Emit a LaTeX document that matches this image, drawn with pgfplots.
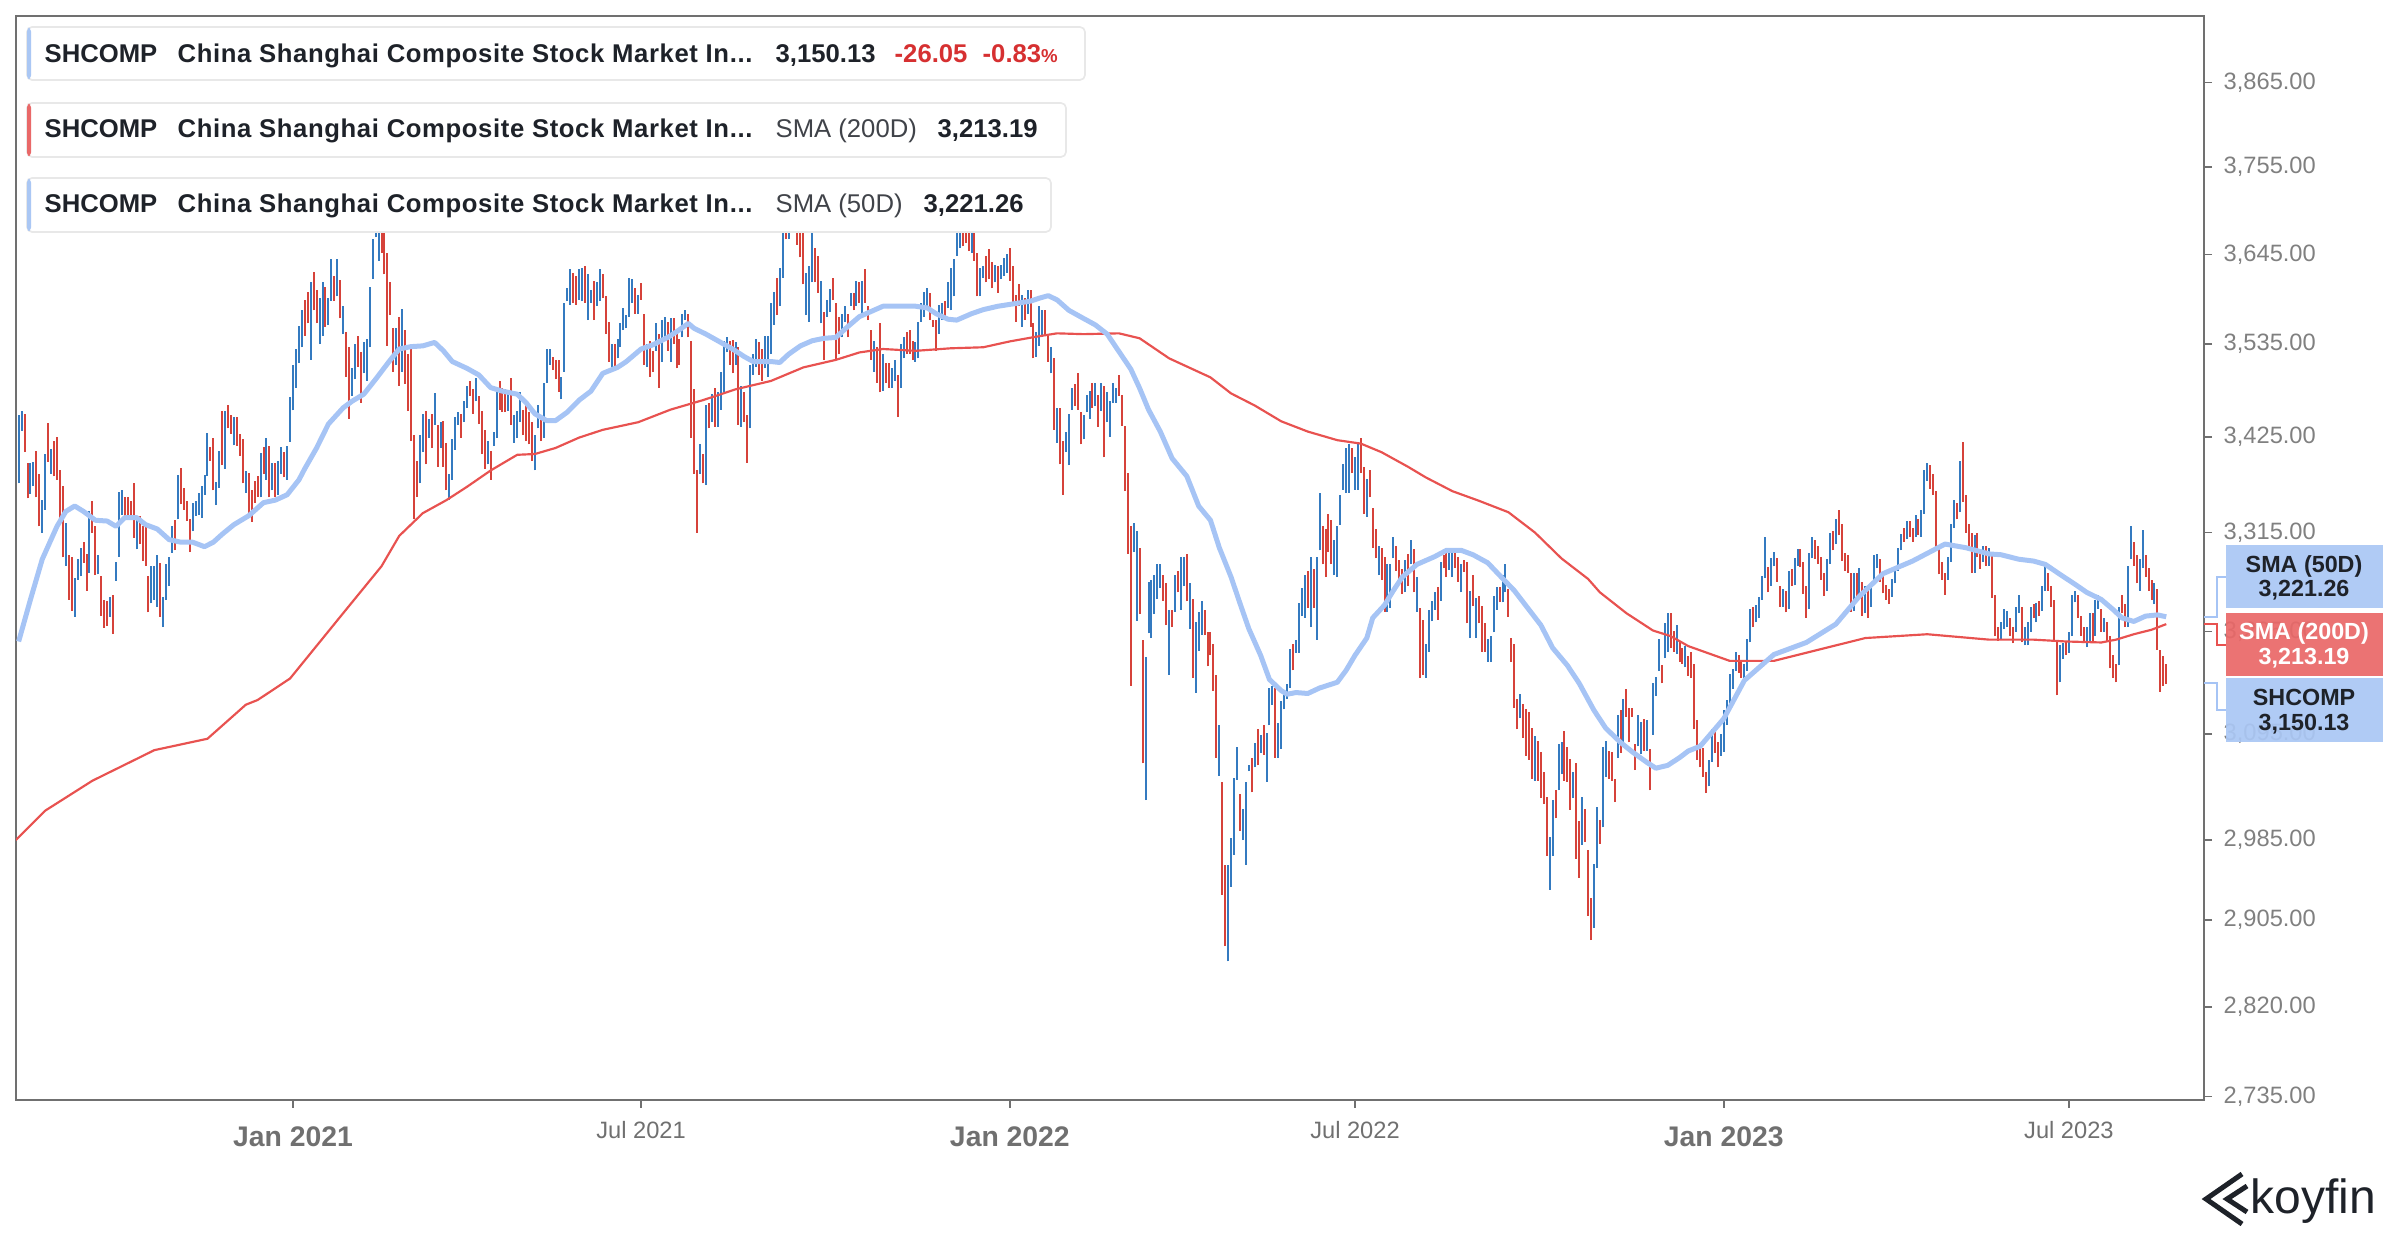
\documentclass[border=0pt]{standalone}
\usepackage{pgfplots}
\pgfplotsset{compat=1.18}
\usepackage{pgfplotstable}
\usepackage{fontspec}
\setmainfont{Liberation Sans}

\definecolor{upc}{RGB}{52,122,192}
\definecolor{dnc}{RGB}{214,66,58}
\definecolor{smaF}{RGB}{166,196,245}
\definecolor{smaT}{RGB}{232,82,80}
\definecolor{axgray}{RGB}{112,112,112}
\definecolor{lblgray}{RGB}{128,128,128}
\definecolor{txt}{RGB}{30,34,41}
\definecolor{boxblue}{RGB}{170,199,244}
\definecolor{boxred}{RGB}{233,104,104}
\definecolor{chg}{RGB}{214,48,49}
\definecolor{boxline}{RGB}{232,232,232}

% daily bars: trading-day index, low, high
\pgfplotstableread{
i lo hi
-93 3371 3450
-92 3432 3455
-89 3359 3394
-88 3368 3396
-85 3315 3352
-84 3341 3405
-82 3382 3411
-77 3278 3326
-74 3221 3264
-73 3262 3285
-72 3266 3298
-69 3270 3339
-66 3268 3290
-62 3221 3243
-60 3261 3282
-59 3288 3361
-58 3335 3363
-53 3296 3330
-48 3236 3277
-47 3240 3277
-46 3232 3290
-44 3210 3243
-43 3240 3279
-42 3255 3288
-41 3292 3322
-39 3330 3381
-34 3316 3348
-33 3334 3351
-32 3335 3360
-31 3332 3368
-30 3358 3381
-29 3379 3430
-26 3346 3373
-25 3366 3409
-23 3388 3455
-20 3415 3448
-16 3360 3385
-11 3355 3406
-9 3375 3423
-7 3363 3395
-5 3358 3397
-4 3382 3413
-2 3375 3414
-1 3419 3472
0 3456 3510
1 3483 3529
2 3512 3557
3 3531 3576
6 3516 3610
9 3535 3591
10 3545 3610
12 3558 3591
13 3587 3639
15 3593 3639
17 3547 3581
20 3473 3506
21 3493 3535
24 3500 3537
25 3491 3541
26 3531 3605
27 3615 3664
28 3666 3720
29 3637 3731
35 3510 3554
37 3502 3578
43 3371 3427
44 3407 3452
46 3424 3446
48 3439 3476
50 3412 3442
53 3352 3382
54 3375 3422
55 3410 3448
56 3439 3454
58 3442 3467
59 3459 3485
62 3467 3494
66 3393 3420
68 3414 3431
69 3424 3477
73 3455 3479
75 3418 3450
76 3424 3455
77 3442 3477
82 3386 3427
83 3435 3463
85 3424 3489
86 3489 3529
87 3510 3529
91 3469 3496
92 3502 3585
93 3587 3603
94 3583 3626
97 3589 3626
98 3587 3628
100 3564 3620
101 3585 3601
103 3581 3610
104 3587 3626
108 3506 3535
110 3518 3541
111 3531 3560
112 3552 3579
113 3554 3570
114 3568 3616
115 3585 3615
117 3572 3595
120 3508 3535
123 3527 3560
125 3514 3564
126 3541 3568
128 3514 3566
132 3543 3572
133 3564 3577
138 3382 3416
140 3369 3463
142 3442 3475
144 3437 3477
145 3457 3502
146 3477 3539
147 3525 3544
150 3510 3537
152 3437 3485
155 3435 3510
156 3498 3523
157 3508 3541
160 3506 3545
161 3496 3545
162 3523 3585
163 3558 3599
165 3581 3628
166 3616 3690
168 3664 3715
170 3675 3715
174 3570 3622
175 3562 3630
176 3610 3672
179 3560 3612
181 3568 3589
182 3574 3602
186 3543 3572
187 3562 3581
189 3581 3597
191 3581 3612
193 3568 3612
197 3502 3539
200 3479 3523
203 3483 3506
204 3491 3516
206 3483 3535
207 3518 3543
211 3514 3537
212 3518 3562
213 3562 3585
214 3568 3598
215 3581 3603
219 3547 3583
220 3564 3585
222 3579 3610
223 3576 3628
224 3593 3639
225 3643 3690
226 3653 3700
230 3647 3708
233 3593 3628
234 3616 3630
238 3610 3632
240 3614 3632
241 3618 3640
242 3622 3645
247 3556 3595
249 3572 3601
252 3520 3550
253 3533 3581
254 3543 3576
257 3500 3531
259 3418 3459
262 3407 3431
263 3392 3452
264 3457 3483
268 3422 3450
269 3454 3474
270 3446 3479
272 3461 3489
274 3455 3489
276 3442 3477
277 3425 3467
278 3465 3489
279 3465 3483
285 3293 3326
286 3217 3317
289 3026 3177
290 3203 3260
291 3198 3262
292 3224 3267
293 3241 3279
294 3253 3279
297 3158 3229
299 3227 3267
301 3229 3288
302 3255 3288
304 3208 3258
306 3139 3215
307 3184 3227
308 3201 3239
314 3051 3104
317 2864 2960
318 2938 2987
319 2970 3049
320 3047 3081
322 2985 3017
323 2960 3045
324 3056 3062
326 3060 3085
328 3075 3094
330 3045 3096
331 3104 3144
332 3126 3146
334 3070 3107
335 3079 3130
336 3121 3141
337 3132 3148
338 3144 3186
340 3182 3196
341 3182 3236
342 3222 3253
343 3220 3267
345 3210 3288
347 3196 3288
348 3295 3360
353 3267 3307
354 3265 3322
355 3324 3357
356 3364 3393
357 3360 3412
358 3360 3417
360 3364 3402
361 3364 3417
364 3333 3376
368 3267 3300
371 3227 3279
372 3231 3279
373 3286 3310
377 3248 3284
379 3279 3307
381 3227 3265
384 3155 3191
385 3183 3229
386 3216 3239
387 3229 3248
389 3239 3282
392 3273 3296
393 3265 3296
396 3248 3279
399 3198 3250
401 3198 3242
405 3172 3197
406 3172 3200
407 3204 3244
408 3229 3254
410 3237 3267
411 3248 3279
416 3112 3137
421 3046 3093
426 2935 2988
427 2969 3026
429 3036 3084
430 3053 3086
434 3028 3055
437 2980 3029
441 2897 2961
442 2957 3019
444 2998 3081
445 3050 3088
449 3070 3115
451 3086 3132
456 3082 3115
457 3074 3108
459 3077 3110
461 3094 3149
462 3135 3156
463 3162 3197
465 3176 3214
466 3183 3225
469 3181 3212
472 3166 3189
480 3040 3068
481 3066 3100
484 3072 3095
485 3076 3120
486 3105 3131
487 3125 3159
488 3143 3164
489 3162 3183
492 3152 3170
493 3162 3197
494 3193 3230
496 3215 3234
497 3220 3243
498 3240 3266
499 3264 3310
501 3255 3286
502 3277 3293
505 3232 3252
507 3230 3272
509 3256 3286
510 3278 3296
514 3230 3292
515 3286 3310
520 3250 3285
521 3280 3315
523 3302 3330
529 3228 3270
531 3246 3275
533 3225 3255
535 3232 3258
536 3258 3290
537 3275 3291
542 3243 3263
543 3258 3275
544 3272 3297
545 3295 3313
547 3308 3328
550 3310 3335
552 3310 3340
553 3336 3386
554 3374 3395
561 3262 3288
562 3282 3325
563 3320 3352
565 3338 3397
570 3270 3312
573 3282 3300
575 3278 3298
579 3196 3215
580 3208 3230
581 3210 3228
584 3205 3232
585 3225 3245
587 3190 3210
588 3190 3215
589 3205 3232
591 3215 3236
593 3228 3255
594 3250 3278
599 3150 3190
600 3175 3192
602 3182 3205
603 3200 3245
604 3237 3250
608 3188 3210
609 3195 3225
611 3200 3240
612 3230 3245
614 3205 3220
619 3168 3232
622 3210 3277
623 3285 3322
626 3250 3285
627 3275 3318
631 3235 3258
}\upbars

\pgfplotstableread{
i lo hi
-91 3407 3452
-90 3354 3395
-87 3355 3408
-86 3322 3382
-83 3396 3441
-81 3379 3420
-80 3375 3425
-79 3330 3386
-78 3287 3368
-76 3240 3290
-75 3228 3287
-71 3281 3304
-70 3250 3291
-68 3315 3351
-67 3267 3322
-65 3222 3266
-64 3209 3240
-63 3211 3238
-61 3202 3245
-57 3334 3355
-56 3335 3355
-55 3332 3351
-54 3309 3371
-52 3302 3334
-51 3283 3322
-50 3278 3326
-49 3226 3266
-45 3221 3281
-40 3295 3329
-38 3347 3389
-37 3341 3366
-36 3328 3351
-35 3293 3330
-28 3397 3413
-27 3363 3423
-24 3392 3455
-22 3435 3463
-21 3428 3450
-19 3414 3448
-18 3403 3428
-17 3371 3422
-15 3337 3383
-14 3327 3363
-13 3349 3374
-12 3356 3379
-10 3382 3413
-8 3355 3414
-6 3355 3394
-3 3378 3407
4 3545 3589
5 3560 3599
7 3576 3623
8 3560 3601
11 3556 3605
14 3587 3618
16 3566 3613
18 3496 3550
19 3446 3531
22 3508 3545
23 3465 3525
30 3647 3705
31 3620 3700
32 3533 3647
33 3570 3610
34 3502 3554
36 3485 3568
38 3487 3552
39 3455 3523
40 3420 3535
41 3330 3427
42 3356 3397
45 3393 3455
47 3412 3452
49 3390 3439
51 3390 3444
52 3363 3418
57 3424 3452
60 3473 3491
61 3452 3481
63 3440 3473
64 3405 3455
65 3388 3433
67 3375 3408
70 3457 3491
71 3454 3483
72 3454 3481
74 3439 3494
78 3427 3457
79 3420 3467
80 3416 3454
81 3397 3442
84 3420 3450
88 3504 3520
89 3493 3516
90 3478 3516
95 3585 3622
96 3583 3618
99 3585 3630
102 3564 3612
105 3591 3620
106 3547 3593
107 3514 3562
109 3506 3535
116 3572 3603
118 3589 3609
119 3510 3572
121 3496 3539
122 3502 3527
124 3483 3547
127 3527 3562
129 3535 3566
130 3506 3547
131 3510 3541
134 3543 3572
135 3424 3539
136 3382 3481
137 3315 3386
139 3371 3405
141 3435 3465
143 3437 3483
148 3510 3539
149 3500 3540
151 3439 3531
153 3442 3477
154 3395 3450
158 3498 3537
159 3491 3529
164 3570 3616
167 3664 3710
169 3680 3720
171 3657 3705
172 3641 3700
173 3608 3690
177 3610 3653
178 3597 3643
180 3516 3574
183 3589 3616
184 3516 3585
185 3523 3568
188 3543 3572
190 3576 3597
192 3585 3610
194 3585 3626
195 3564 3581
196 3516 3552
198 3489 3531
199 3477 3560
201 3489 3512
202 3483 3512
205 3448 3498
208 3523 3550
209 3523 3552
210 3516 3539
216 3564 3597
217 3556 3564
218 3527 3564
221 3568 3587
227 3655 3700
228 3659 3705
229 3649 3700
231 3637 3702
232 3593 3647
235 3610 3643
236 3614 3651
237 3603 3635
239 3597 3630
243 3612 3653
244 3585 3630
245 3562 3595
246 3581 3608
248 3564 3591
250 3556 3601
251 3518 3560
255 3545 3576
256 3514 3547
258 3433 3518
260 3393 3459
261 3358 3420
265 3461 3487
266 3457 3500
267 3416 3454
271 3459 3489
273 3437 3474
275 3401 3485
280 3473 3498
281 3438 3474
282 3362 3438
283 3291 3383
284 3146 3322
287 3224 3298
288 3064 3196
295 3239 3267
296 3212 3258
298 3210 3229
300 3248 3272
303 3238 3291
305 3155 3241
309 3201 3229
310 3167 3205
311 3179 3205
312 3141 3191
313 3070 3158
315 2930 3045
316 2879 2960
321 2994 3032
325 3034 3070
327 3062 3100
329 3073 3104
333 3070 3144
339 3163 3191
344 3231 3272
346 3231 3274
349 3279 3322
350 3265 3319
351 3293 3336
352 3279 3329
359 3383 3412
362 3383 3424
363 3336 3390
365 3355 3386
366 3298 3343
367 3286 3319
369 3262 3298
370 3227 3288
374 3272 3300
375 3260 3284
376 3246 3274
378 3255 3291
380 3248 3296
382 3155 3231
383 3158 3218
388 3218 3254
390 3275 3290
391 3265 3292
394 3275 3292
395 3260 3288
397 3271 3284
398 3214 3282
400 3233 3267
402 3214 3244
403 3183 3233
404 3183 3214
409 3237 3254
412 3221 3252
413 3172 3198
414 3123 3191
415 3100 3132
417 3091 3127
418 3072 3122
419 3068 3118
420 3048 3101
422 3046 3088
423 3028 3076
424 3022 3055
425 2969 3029
428 3007 3036
431 3046 3098
432 3045 3081
433 3016 3069
435 2966 3064
436 2947 3004
438 2983 3017
439 2909 2975
440 2885 2927
443 2981 3005
446 3048 3077
447 3046 3076
448 3024 3048
450 3075 3120
452 3113 3143
453 3086 3123
454 3113 3123
455 3057 3084
458 3077 3111
460 3036 3079
464 3149 3168
467 3187 3225
468 3183 3206
470 3172 3195
471 3170 3187
473 3157 3178
474 3155 3183
475 3100 3170
476 3068 3110
477 3060 3085
478 3050 3080
479 3033 3055
482 3075 3098
483 3060 3086
490 3160 3180
491 3155 3172
495 3210 3232
500 3248 3276
503 3260 3286
504 3232 3255
506 3226 3250
508 3255 3274
511 3276 3296
512 3246 3282
513 3220 3255
516 3285 3307
517 3280 3300
518 3262 3288
519 3244 3270
522 3295 3316
524 3312 3340
525 3283 3325
526 3272 3292
527 3270 3290
528 3227 3270
530 3243 3270
532 3222 3260
534 3220 3253
538 3260 3285
539 3247 3266
540 3240 3256
541 3235 3252
546 3305 3320
548 3310 3328
549 3305 3320
551 3312 3330
555 3365 3392
556 3358 3382
557 3295 3362
558 3268 3300
559 3262 3282
560 3245 3270
564 3330 3349
566 3350 3419
567 3315 3357
568 3300 3325
569 3270 3315
571 3287 3315
572 3274 3295
574 3278 3300
576 3242 3290
577 3200 3245
578 3195 3210
582 3200 3220
583 3192 3210
586 3193 3232
590 3220 3235
592 3222 3238
595 3250 3270
596 3232 3255
597 3195 3240
598 3136 3195
601 3180 3195
605 3220 3245
606 3200 3222
607 3192 3210
610 3195 3225
613 3205 3230
615 3195 3215
616 3165 3200
617 3155 3180
618 3150 3170
620 3225 3245
621 3210 3235
624 3278 3305
625 3258 3290
628 3265 3290
629 3250 3275
630 3240 3262
632 3185 3252
633 3140 3185
634 3146 3178
635 3148 3170
}\dnbars

\pgfplotstableread{
i v
-93 3194
-89 3240
-85 3285
-80 3322
-77 3339
-74 3345
-71 3339
-67 3329
-63 3328
-60 3322
-57 3332
-53 3332
-50 3324
-46 3319
-42 3307
-38 3304
-34 3304
-30 3299
-27 3304
-24 3313
-20 3324
-15 3334
-10 3349
-6 3352
-2 3358
2 3375
4 3388
8 3412
12 3440
17 3459
20 3467
24 3475
28 3493
33 3516
36 3529
40 3532
44 3533
48 3537
51 3527
54 3514
59 3506
63 3498
67 3483
71 3479
76 3475
79 3465
82 3452
86 3444
89 3444
93 3454
97 3468
101 3479
105 3500
110 3507
113 3514
118 3529
122 3534
127 3543
130 3550
134 3560
136 3554
140 3547
145 3537
149 3529
153 3520
156 3514
162 3514
165 3513
168 3523
172 3533
176 3539
180 3542
184 3543
188 3556
192 3568
200 3581
206 3581
211 3581
215 3579
218 3572
222 3565
225 3564
230 3572
234 3577
239 3581
244 3584
250 3587
253 3591
256 3594
259 3589
263 3576
268 3566
272 3558
276 3547
279 3531
284 3505
287 3482
290 3457
294 3431
298 3400
303 3379
307 3345
311 3329
314 3298
318 3265
321 3236
324 3208
328 3179
331 3153
335 3141
337 3137
340 3139
344 3138
348 3144
354 3150
357 3163
360 3179
364 3198
366 3220
370 3234
373 3250
376 3265
381 3279
387 3288
391 3295
396 3295
400 3290
405 3281
409 3267
414 3250
418 3233
423 3212
427 3187
432 3168
436 3149
441 3120
445 3101
450 3086
454 3076
459 3065
462 3059
466 3062
470 3070
473 3077
477 3082
485 3111
492 3152
502 3180
513 3193
523 3213
531 3244
539 3269
549 3283
560 3302
567 3298
575 3291
579 3290
585 3285
590 3283
594 3279
599 3268
604 3257
608 3248
613 3240
617 3229
620 3220
624 3216
628 3222
632 3223
635 3221
}\smafifty

\pgfplotstableread{
i v
-94 2985
-84 3015
-68 3046
-47 3078
-29 3090
-16 3126
-12 3131
-1 3154
17 3225
30 3277
36 3311
44 3337
52 3352
59 3367
67 3386
76 3404
82 3405
89 3412
97 3424
105 3433
117 3442
128 3457
139 3468
150 3481
162 3491
173 3507
184 3516
192 3525
200 3529
211 3527
223 3530
234 3531
243 3538
252 3544
259 3548
268 3547
280 3548
287 3542
297 3518
311 3495
318 3476
326 3462
335 3443
344 3431
354 3421
362 3417
369 3407
378 3390
384 3378
393 3362
402 3351
412 3338
421 3315
430 3286
439 3263
443 3248
452 3225
461 3206
467 3200
473 3189
487 3173
502 3173
517 3185
533 3198
554 3202
575 3196
590 3196
601 3194
613 3193
618 3196
624 3202
630 3207
635 3213
}\smatwo

\begin{document}
\begin{tikzpicture}
\path[use as bounding box] (0,0) rectangle (720pt,372pt);
\begin{axis}[
  at={(4.8pt,42pt)}, anchor=south west,
  scale only axis, width=656.4pt, height=325.2pt,
  xmin=-93.9, xmax=647.8,
  ymode=log, ymin=2732, ymax=3954,
  axis line style={draw=axgray, line width=0.6pt},
  tick align=outside, major tick length=2.4pt,
  tick style={draw=axgray, line width=0.5pt},
  minor tick num=0,
  xtick pos=bottom, ytick pos=right, yticklabel pos=right,
  xtick={0,118,243,360,485,602},
  xticklabels={
    {\bfseries\fontsize{8.5}{10}\selectfont Jan 2021},
    {\raisebox{2.4pt}{Jul 2021}},
    {\bfseries\fontsize{8.5}{10}\selectfont Jan 2022},
    {\raisebox{2.4pt}{Jul 2022}},
    {\bfseries\fontsize{8.5}{10}\selectfont Jan 2023},
    {\raisebox{2.4pt}{Jul 2023}}},
  xticklabel style={anchor=base, inner sep=0pt, yshift=-11.7pt,
    text=axgray, font=\fontsize{7.1}{8.5}\selectfont},
  ytick={2735,2820,2905,2985,3095,3205,3315,3425,3535,3645,3755,3865},
  yticklabels={{2,735.00},{2,820.00},{2,905.00},{2,985.00},{3,095.00},{3,205.00},
    {3,315.00},{3,425.00},{3,535.00},{3,645.00},{3,755.00},{3,865.00}},
  yticklabel style={anchor=west, inner sep=0pt, xshift=3.3pt,
    text=lblgray, font=\fontsize{7.1}{8.5}\selectfont},
]
\addplot[draw=none, mark=none, forget plot,
  error bars/.cd, y dir=plus, y explicit, error mark=none,
  error bar style={draw=upc, line width=0.6pt}]
  table[x=i, y=lo, y error expr=\thisrow{hi}-\thisrow{lo}] {\upbars};
\addplot[draw=none, mark=none, forget plot,
  error bars/.cd, y dir=plus, y explicit, error mark=none,
  error bar style={draw=dnc, line width=0.6pt}]
  table[x=i, y=lo, y error expr=\thisrow{hi}-\thisrow{lo}] {\dnbars};
\addplot[smaT, line width=0.65pt, mark=none, line join=round] table[x=i, y=v] {\smatwo};
\addplot[smaF, line width=1.5pt, mark=none, line join=round] table[x=i, y=v] {\smafifty};
\end{axis}

\begin{scope}[shift={(0pt,372pt)}, x=0.3pt, y=-0.3pt]
  % legend cards
  \foreach \yt/\yb/\xr/\ac in {27/80/1085/boxblue, 103/157/1066/boxred, 178/232/1051/boxblue}{
    \draw[boxline, fill=white, line width=0.5pt, rounded corners=1.5pt] (27,\yt) rectangle (\xr,\yb);
    \fill[\ac, rounded corners=1pt] (27,\yt+1) rectangle (31,\yb-1);
  }
  \tikzset{lg/.style={anchor=base west, inner sep=0pt, text=txt, font=\bfseries\fontsize{7.7}{9}\selectfont}}
  \foreach \yb in {63,138,213}{
    \node[lg] at (44,\yb) {SHCOMP};
    \node[lg, font=\bfseries\fontsize{7.7}{9}\selectfont\addfontfeatures{LetterSpace=2.4}] at (177,\yb) {China Shanghai Composite Stock Market In...};
  }
  \node[lg] at (775,63) {3,150.13};
  \node[lg, text=chg] at (894,63) {-26.05};
  \node[lg, text=chg] at (982,63) {-0.83{\fontsize{5.6}{6}\selectfont\%}};
  \node[lg, font=\fontsize{7.7}{9}\selectfont, text=txt!85] at (775,138) {SMA (200D)};
  \node[lg] at (937,138) {3,213.19};
  \node[lg, font=\fontsize{7.7}{9}\selectfont, text=txt!85] at (775,213) {SMA (50D)};
  \node[lg] at (923,213) {3,221.26};

  % last-value tags on the price scale
  \draw[smaF, line width=0.6pt] (2204,617) -- (2217,617) -- (2217,577) -- (2226,577);
  \draw[smaT, line width=0.6pt] (2204,624) -- (2217,624) -- (2217,645) -- (2226,645);
  \draw[smaF, line width=0.6pt] (2204,683) -- (2217,683) -- (2217,710) -- (2226,710);
  \fill[boxblue, fill opacity=0.93] (2226,545) rectangle (2383,608);
  \fill[boxred, fill opacity=0.93] (2226,613) rectangle (2383,676);
  \fill[boxblue, fill opacity=0.93] (2226,678) rectangle (2383,742);
  \tikzset{tg/.style={anchor=base, inner sep=0pt, font=\bfseries\fontsize{7}{8}\selectfont}}
  \node[tg, text=txt] at (2304,573) {SMA (50D)};
  \node[tg, text=txt] at (2304,597) {3,221.26};
  \node[tg, text=white] at (2304,640) {SMA (200D)};
  \node[tg, text=white] at (2304,665) {3,213.19};
  \node[tg, text=txt] at (2304,705) {SHCOMP};
  \node[tg, text=txt] at (2304,730) {3,150.13};

  % koyfin mark
  \draw[txt, line width=1.5pt, line join=miter] (2242,1174) -- (2206,1199) -- (2242,1224);
  \draw[txt, line width=1.5pt, line join=miter] (2247,1186) -- (2227,1199) -- (2247,1212);
  \node[anchor=base west, inner sep=0pt, text=txt, font=\fontsize{14.4}{16}\selectfont] at (2250,1213) {koyfin};
\end{scope}
\end{tikzpicture}
\end{document}
